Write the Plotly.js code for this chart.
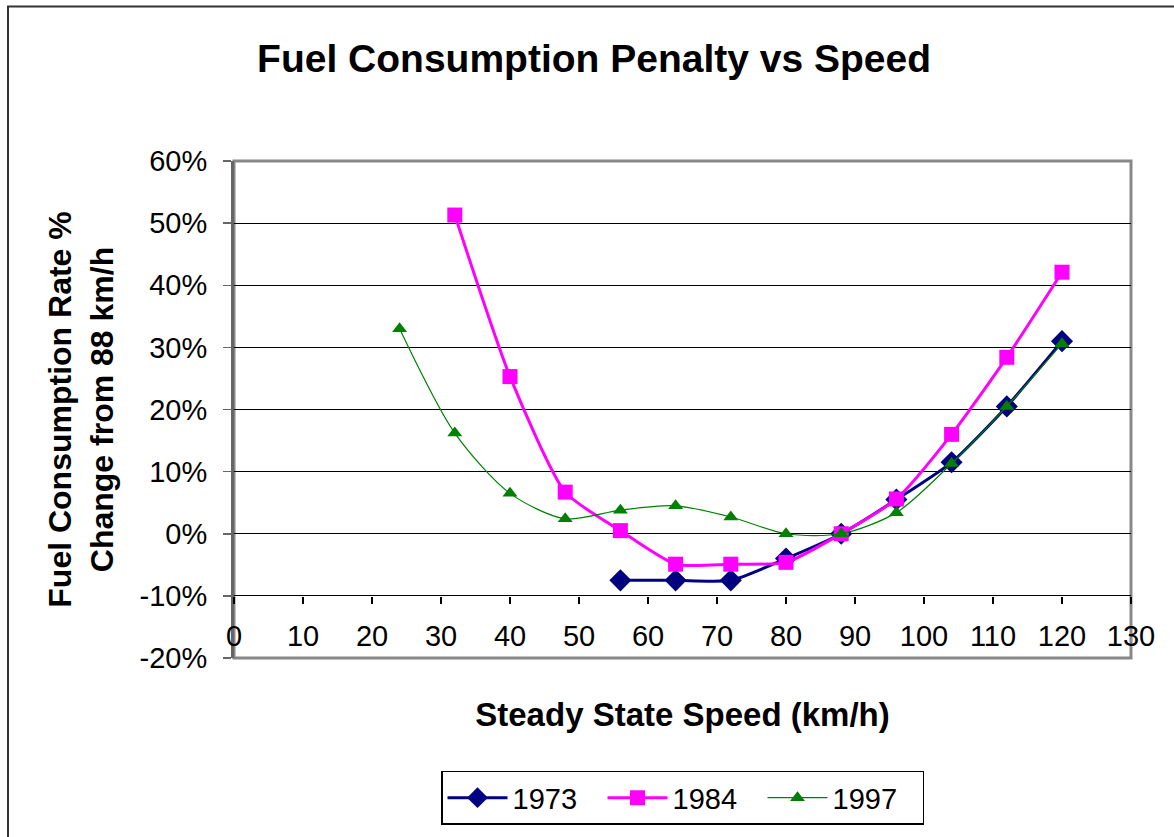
<!DOCTYPE html>
<html>
<head>
<meta charset="utf-8">
<script src="https://cdn.plot.ly/plotly-3.0.1.min.js"></script>
<style>
html,body{margin:0;padding:0;background:#fff;}
#chart{width:1174px;height:837px;}
</style>
</head>
<body>
<div id="chart"></div>
<script>
// Data
var speed1973 = [56, 64, 72, 80, 88, 96, 104, 112, 120];
var pen1973   = [-0.075, -0.075, -0.075, -0.040, 0.000, 0.055, 0.115, 0.205, 0.310];

var speed1984 = [32, 40, 48, 56, 64, 72, 80, 88, 96, 104, 112, 120];
var pen1984   = [0.513, 0.253, 0.067, 0.005, -0.049, -0.049, -0.046, 0.000, 0.056, 0.160, 0.284, 0.421];

var speed1997 = [24, 32, 40, 48, 56, 64, 72, 80, 88, 96, 104, 112, 120];
var pen1997   = [0.330, 0.162, 0.065, 0.024, 0.038, 0.045, 0.027, 0.000, 0.000, 0.034, 0.113, 0.205, 0.306];

var seriesNames = ['1973', '1984', '1997'];
var yTickVals = [-0.2, -0.1, 0, 0.1, 0.2, 0.3, 0.4, 0.5, 0.6];
var yTickText = ['-20%', '-10%', '0%', '10%', '20%', '30%', '40%', '50%', '60%'];
var xTickVals = [0, 10, 20, 30, 40, 50, 60, 70, 80, 90, 100, 110, 120, 130];

var FONT = 'Liberation Sans, Arial, sans-serif';

var traces = [
  {x: speed1973, y: pen1973, name: seriesNames[0], type: 'scatter', mode: 'lines+markers',
   line: {color: '#000080', width: 3, shape: 'spline', smoothing: 0.6},
   marker: {symbol: 'diamond', size: 17, color: '#000080'}},
  {x: speed1984, y: pen1984, name: seriesNames[1], type: 'scatter', mode: 'lines+markers',
   line: {color: '#FF00FF', width: 3, shape: 'spline', smoothing: 0.6},
   marker: {symbol: 'square', size: 15, color: '#FF00FF'}},
  {x: speed1997, y: pen1997, name: seriesNames[2], type: 'scatter', mode: 'lines+markers',
   line: {color: '#008000', width: 1.2, shape: 'spline', smoothing: 0.8},
   marker: {symbol: 'triangle-up', size: 13, color: '#008000'}}
];

var W = 1174, H = 837;
var L = 234, R = 43, T = 161, B = 174;
var pw = W - L - R, ph = H - T - B;

var layout = {
  width: W, height: H,
  margin: {l: L, r: R, t: T, b: B},
  paper_bgcolor: '#fff', plot_bgcolor: '#fff',
  font: {family: FONT, color: '#000', size: 29},
  showlegend: true,
  title: {text: '<b>Fuel Consumption Penalty vs Speed</b>', font: {family: FONT, size: 39, color: '#000'},
          xref: 'container', x: 0.506, xanchor: 'center', yref: 'container', y: 1 - 58 / H, yanchor: 'middle'},
  xaxis: {
    range: [0, 130], tickvals: xTickVals, ticktext: xTickVals.map(String),
    anchor: 'free', position: 0.125,
    showgrid: false, zeroline: false, showline: false,
    ticks: 'outside', ticklen: 7, tickcolor: '#000', tickwidth: 1.5,
    tickfont: {family: FONT, size: 29, color: '#000'},
    ticklabelstandoff: 7,
    title: {text: '<b>Steady State Speed (km/h)</b>', font: {family: FONT, size: 33, color: '#000'}, standoff: 52},
    fixedrange: true
  },
  yaxis: {
    range: [-0.2, 0.6], tickvals: yTickVals, ticktext: yTickText,
    showgrid: true, gridcolor: '#000', gridwidth: 1,
    zeroline: false,
    showline: true, linecolor: '#666', linewidth: 3,
    ticks: 'outside', ticklen: 8, tickcolor: '#666', tickwidth: 1.5,
    tickfont: {family: FONT, size: 29, color: '#000'},
    ticklabelstandoff: 10,
    title: {text: '<b>Fuel Consumption Rate %<br>Change from 88 km/h</b>', font: {family: FONT, size: 32, color: '#000'}, standoff: 17},
    fixedrange: true
  },
  legend: {
    orientation: 'h', x: 0.5, xanchor: 'center', y: (T + ph - 777) / ph, yanchor: 'top',
    bordercolor: '#000', borderwidth: 1.5, bgcolor: '#fff',
    font: {family: FONT, size: 29, color: '#000'},
    itemwidth: 60, entrywidth: 85, traceorder: 'normal'
  },
  shapes: [
    // plot area frame (top, right, bottom)
    {type: 'rect', xref: 'paper', yref: 'paper', x0: 0, x1: 1, y0: 0, y1: 1,
     line: {color: '#888', width: 3}, layer: 'below'},
    // outer chart frame
    {type: 'rect', xref: 'paper', yref: 'paper', x0: (8 - L) / pw, x1: (W + 20 - L) / pw,
     y0: -1, y1: (T + ph - 5) / ph, line: {color: '#333', width: 2}, fillcolor: 'rgba(0,0,0,0)'}
  ]
};

Plotly.newPlot('chart', traces, layout, {displayModeBar: false, staticPlot: true});
</script>
</body>
</html>
